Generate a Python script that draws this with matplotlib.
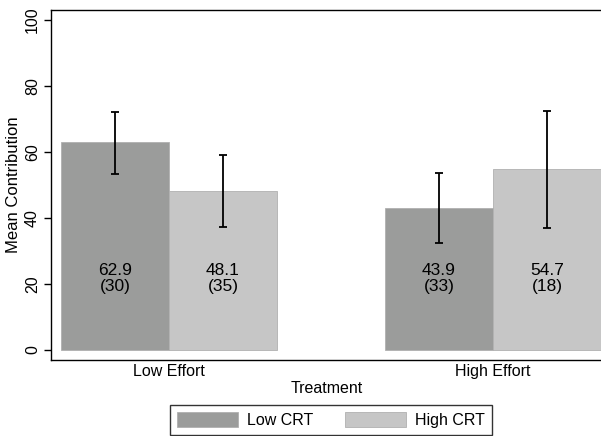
#!/usr/bin/env python3
"""Mean contribution by treatment and CRT group, Stata-style bar chart."""

import matplotlib.pyplot as plt
import numpy as np

plt.rcParams["font.family"] = ["Liberation Sans", "DejaVu Sans"]

# Data
treatments = ["Low Effort", "High Effort"]
groups = ["Low CRT", "High CRT"]
means = {"Low CRT": [62.9, 43.1], "High CRT": [48.3, 54.7]}
mean_labels = {"Low CRT": ["62.9", "43.9"], "High CRT": ["48.1", "54.7"]}
counts = {"Low CRT": [30, 33], "High CRT": [35, 18]}
ci_low = {"Low CRT": [53.4, 32.3], "High CRT": [37.2, 36.9]}
ci_high = {"Low CRT": [72.2, 53.7], "High CRT": [59.0, 72.5]}
colors = {"Low CRT": "#9b9c9b", "High CRT": "#c6c6c6"}

fig = plt.figure(figsize=(6.01, 4.36), dpi=100)
ax = fig.add_axes([51 / 601, 76 / 436, 551 / 601, 350 / 436])

group_pos = np.array([0.0, 3.0])
offsets = {"Low CRT": -0.5, "High CRT": 0.5}

for g in groups:
    x = group_pos + offsets[g]
    ax.bar(x, means[g], width=1.0, color=colors[g], edgecolor="#b0b0b0",
           linewidth=0.6, label=g, zorder=2)
    lo = np.array(means[g]) - np.array(ci_low[g])
    hi = np.array(ci_high[g]) - np.array(means[g])
    ax.errorbar(x, means[g], yerr=[lo, hi], fmt="none", ecolor="black",
                elinewidth=1.3, capsize=3, capthick=1.3, zorder=3)
    # mean on the first line, group size underneath
    for xi, lab, n in zip(x, mean_labels[g], counts[g]):
        ax.text(xi, 24.0, lab, ha="center", va="center", fontsize=12.5, zorder=4)
        ax.text(xi, 19.1, f"({n})", ha="center", va="center", fontsize=12.5,
                zorder=4)

ax.set_xlim(-1.093, 4.009)
ax.set_ylim(-3.03, 103.03)
ax.set_yticks([0, 20, 40, 60, 80, 100])
ax.set_yticklabels(["0", "20", "40", "60", "80", "100"], rotation=90,
                   va="center", fontsize=11.5)
ax.tick_params(axis="y", length=5, width=1, pad=3)
ax.set_xticks(group_pos)
ax.set_xticklabels(treatments, fontsize=11.5)
ax.tick_params(axis="x", length=0, pad=3)
ax.set_ylabel("Mean Contribution", fontsize=12, labelpad=3)
ax.set_xlabel("Treatment", fontsize=11.5, labelpad=1)

for side in ["left", "top", "bottom"]:
    ax.spines[side].set_linewidth(1.0)
ax.spines["right"].set_visible(False)

leg = fig.legend(loc="center", bbox_to_anchor=(331 / 601, 16 / 436), ncol=2,
                 fontsize=11.5, frameon=True, fancybox=False, edgecolor="black",
                 handlelength=3.8, handleheight=1.05, handletextpad=0.55,
                 columnspacing=2.0, borderpad=0.45)
leg.get_frame().set_linewidth(1.0)

plt.savefig("out.png", dpi=100)
